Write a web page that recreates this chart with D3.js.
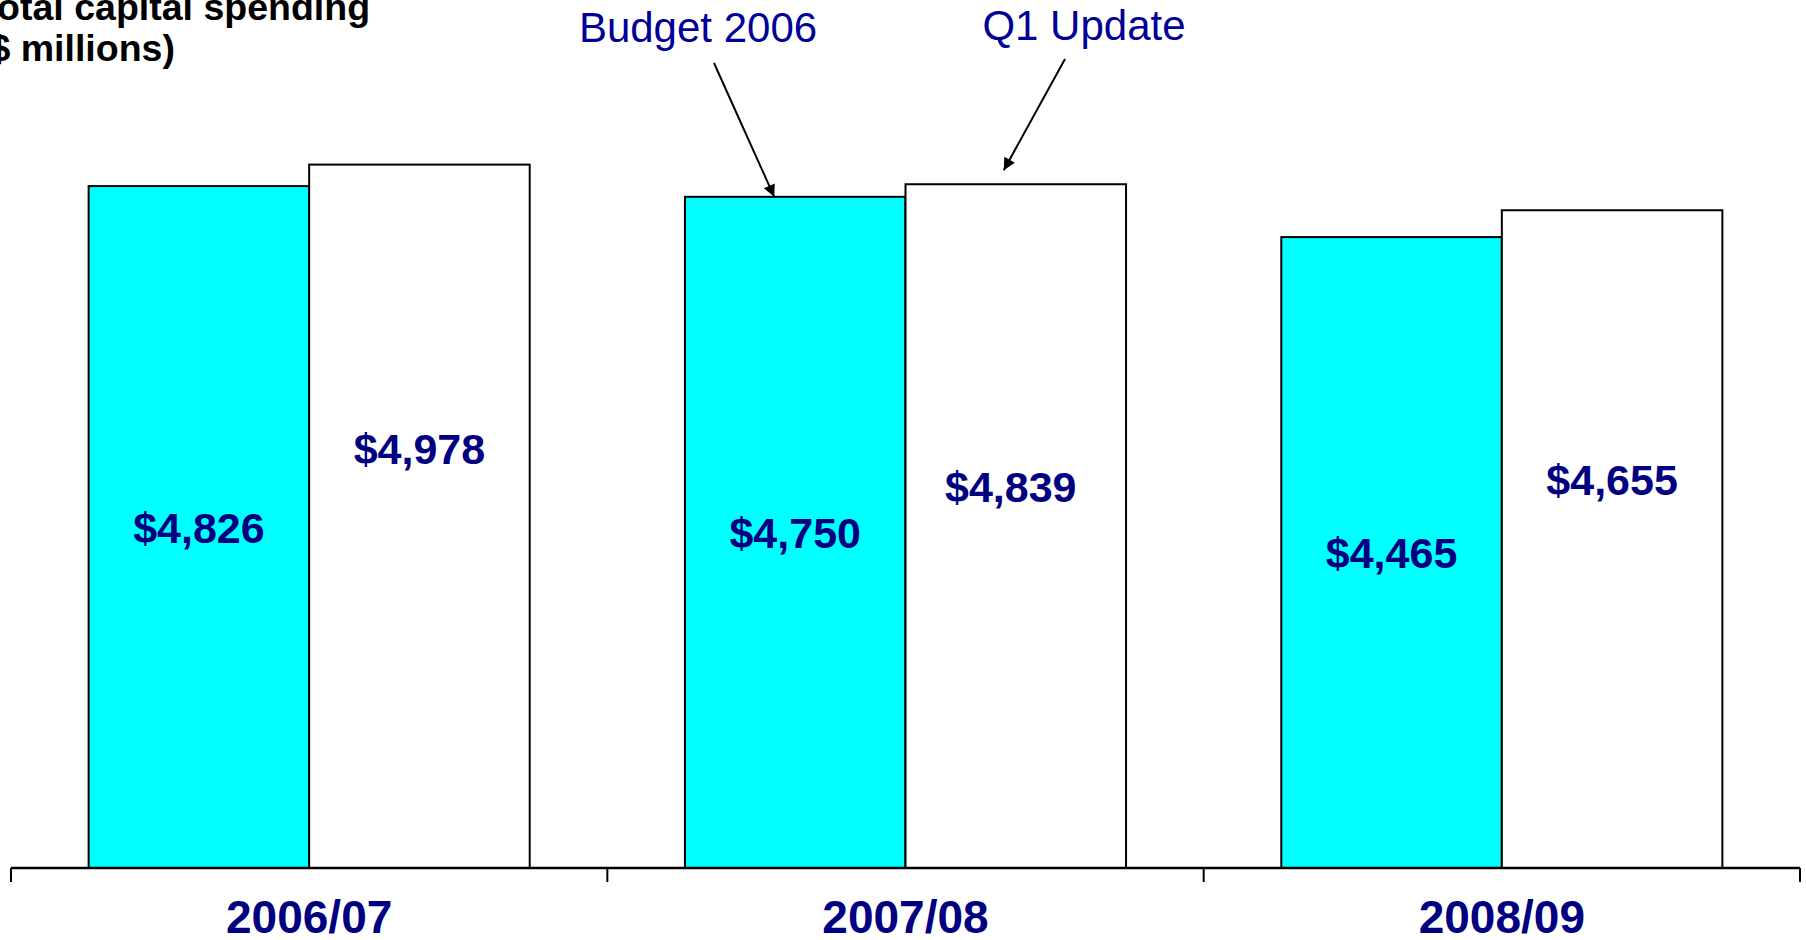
<!DOCTYPE html>
<html>
<head>
<meta charset="utf-8">
<script src="https://cdn.jsdelivr.net/npm/d3@7"></script>
<style>
  html, body { margin: 0; padding: 0; background: #fff; overflow: hidden; }
  body { width: 1806px; height: 940px; }
  text { font-family: Arial, "Liberation Sans", sans-serif; }
</style>
</head>
<body>
<script>
var width = 1806
var height = 940

// data
var years = ['2006/07', '2007/08', '2008/09']
var series = ['Budget 2006', 'Q1 Update']
var budget2006 = [4826, 4750, 4465]
var q1Update = [4978, 4839, 4655]
// where the Q1 value labels sit, in $ millions on the value axis
var q1LabelAt = [2970, 2700, 2750]
var titleLines = ['Total capital spending', '($ millions)']

var colors = { 'Budget 2006': '#00ffff', 'Q1 Update': '#ffffff' }
var navy = '#000080'

var rows = years.map(function(y, i) {
    return { year: y, values: [
        { key: 'Budget 2006', value: budget2006[i], labelAt: budget2006[i] / 2, shift: 0 },
        { key: 'Q1 Update', value: q1Update[i], labelAt: q1LabelAt[i], shift: i === 1 ? -5 : 0 }
    ] }
})

var x0 = d3.scaleBand()
    .domain(years)
    .range([11, 1800])
    .paddingInner(0)
    .paddingOuter(0)

var x1 = d3.scaleBand()
    .domain(series)
    .range([0, x0.bandwidth()])
    .paddingInner(0)
    .paddingOuter(0.352)

var y = d3.scaleLinear()
    .domain([0, 5000])
    .range([868, 161.5])

var svg = d3.select('body').append('svg')
    .attr('width', width)
    .attr('height', height)

svg.append('defs').append('marker')
    .attr('id', 'arrow')
    .attr('viewBox', '0 0 10 10')
    .attr('refX', 10)
    .attr('refY', 5)
    .attr('markerWidth', 16)
    .attr('markerHeight', 12)
    .attr('markerUnits', 'userSpaceOnUse')
    .attr('orient', 'auto')
    .append('path')
    .attr('d', 'M0,0 L10,5 L0,10 Z')
    .attr('fill', '#000')

// title, partly cut off on the left like the slide
svg.append('text')
    .attr('x', -23)
    .attr('y', 20)
    .style('font-size', '37.5px')
    .style('font-weight', 'bold')
    .selectAll('tspan')
    .data(titleLines)
    .enter().append('tspan')
    .attr('x', -23)
    .attr('dy', function(d, i) { return i === 0 ? 0 : 41 })
    .text(function(d) { return d })

var groups = svg.append('g')
    .attr('class', 'bars')
    .selectAll('g')
    .data(rows)
    .enter().append('g')
    .attr('transform', function(d) { return 'translate(' + x0(d.year) + ',0)' })

groups.selectAll('rect')
    .data(function(d) { return d.values })
    .enter().append('rect')
    .attr('x', function(d) { return x1(d.key) })
    .attr('y', function(d) { return y(d.value) })
    .attr('width', x1.bandwidth())
    .attr('height', function(d) { return y(0) - y(d.value) })
    .style('fill', function(d) { return colors[d.key] })
    .style('stroke', '#000')
    .style('stroke-width', 2)

groups.selectAll('text')
    .data(function(d) { return d.values })
    .enter().append('text')
    .attr('x', function(d) { return x1(d.key) + x1.bandwidth() / 2 + d.shift })
    .attr('y', function(d) { return y(d.labelAt) })
    .attr('dy', '0.36em')
    .attr('text-anchor', 'middle')
    .style('font-size', '43px')
    .style('font-weight', 'bold')
    .style('fill', navy)
    .text(function(d) { return '$' + d3.format(',')(d.value) })

// axis: baseline with ticks at category boundaries
var axis = svg.append('g').attr('class', 'axis')
axis.append('line')
    .attr('x1', x0.range()[0])
    .attr('x2', x0.range()[1])
    .attr('y1', y(0))
    .attr('y2', y(0))
    .style('stroke', '#000')
    .style('stroke-width', 2.5)

var bounds = years.map(function(d) { return x0(d) }).concat([x0.range()[1]])
axis.selectAll('.tick')
    .data(bounds)
    .enter().append('line')
    .attr('class', 'tick')
    .attr('x1', function(d) { return d })
    .attr('x2', function(d) { return d })
    .attr('y1', y(0))
    .attr('y2', y(0) + 14)
    .style('stroke', '#000')
    .style('stroke-width', 2)

axis.selectAll('.label')
    .data(years)
    .enter().append('text')
    .attr('class', 'label')
    .attr('x', function(d) { return x0(d) + x0.bandwidth() / 2 })
    .attr('y', 933)
    .attr('text-anchor', 'middle')
    .style('font-size', '46px')
    .style('font-weight', 'bold')
    .style('fill', navy)
    .text(function(d) { return d })

// series call-outs pointing at the 2007/08 bars
var mid = years[1]
var callouts = [
    { key: 'Budget 2006', tx: 698, ty: 42, sx: 714, sy: 63,
      ex: x0(mid) + x1('Budget 2006') + x1.bandwidth() / 2 - 21, ey: y(budget2006[1]) },
    { key: 'Q1 Update', tx: 1084, ty: 40, sx: 1065, sy: 59,
      ex: x0(mid) + x1('Q1 Update') + x1.bandwidth() / 2 - 12, ey: y(q1Update[1]) - 14 }
]

svg.append('g').selectAll('text')
    .data(callouts)
    .enter().append('text')
    .attr('x', function(d) { return d.tx })
    .attr('y', function(d) { return d.ty })
    .attr('text-anchor', 'middle')
    .style('font-size', '42px')
    .style('fill', '#000099')
    .text(function(d) { return d.key })

svg.append('g').selectAll('line')
    .data(callouts)
    .enter().append('line')
    .attr('x1', function(d) { return d.sx })
    .attr('y1', function(d) { return d.sy })
    .attr('x2', function(d) { return d.ex })
    .attr('y2', function(d) { return d.ey })
    .style('stroke', '#000')
    .style('stroke-width', 2)
    .attr('marker-end', 'url(#arrow)')
</script>
</body>
</html>
